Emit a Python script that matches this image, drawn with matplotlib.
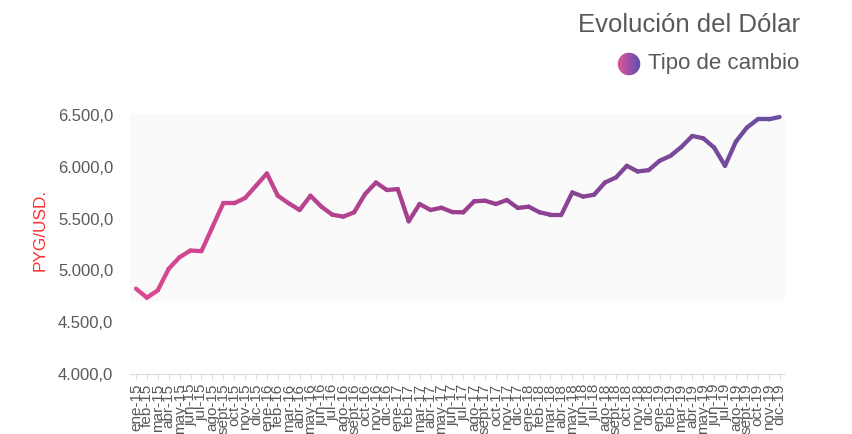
import matplotlib.pyplot as plt
import numpy as np
from matplotlib.collections import LineCollection
from matplotlib.colors import LinearSegmentedColormap
from matplotlib.patches import Circle

plt.rcParams['font.family'] = ['Liberation Sans', 'DejaVu Sans']

# monthly labels ene-15 .. dic-19
meses = ["ene", "feb", "mar", "abr", "may", "jun", "jul", "ago", "sept", "oct", "nov", "dic"]
anios = ["15", "16", "17", "18", "19"]
etiquetas = [m + "-" + a for a in anios for m in meses]

# PYG per USD
tipo_cambio = [
    4824, 4737, 4808, 5016, 5128, 5192, 5186, 5417, 5648, 5648, 5699, 5817,
    5936, 5721, 5648, 5583, 5721, 5615, 5538, 5519, 5561, 5737, 5849, 5776,
    5785, 5474, 5641, 5583, 5605, 5563, 5561, 5667, 5673, 5641, 5680, 5603,
    5615, 5561, 5538, 5538, 5753, 5712, 5731, 5849, 5897, 6010, 5955, 5968,
    6058, 6106, 6192, 6298, 6276, 6186, 6010, 6244, 6378, 6459, 6459, 6481,
]
yticks = [4000, 4500, 5000, 5500, 6000, 6500]

gris = "#595959"
cmap_linea = LinearSegmentedColormap.from_list("linea", ["#db4890", "#9a3f8f", "#6c4d9f"])
cmap_leyenda = LinearSegmentedColormap.from_list("ley", ["#e4559a", "#5a4eb0"])

fig = plt.figure(figsize=(8.53, 4.34), dpi=100)
ax = fig.add_axes([130 / 853, 1 - 374 / 434, 655 / 853, 260 / 434])

x = np.arange(len(tipo_cambio))
y = np.array(tipo_cambio, dtype=float)

# light background band
ax.axhspan(4710, 6510, color="#fafafa", zorder=0)

pts = np.column_stack([x, y]).reshape(-1, 1, 2)
segs = np.concatenate([pts[:-1], pts[1:]], axis=1)
lc = LineCollection(segs, cmap=cmap_linea, linewidth=3.1, capstyle="round", joinstyle="round")
lc.set_array(np.linspace(0, 1, len(segs)))
ax.add_collection(lc)

ax.set_xlim(-0.55, 59.5)
ax.set_ylim(4000, 6510)

ax.set_yticks(yticks)
ax.set_yticklabels([f"{v:,.1f}".replace(",", "X").replace(".", ",").replace("X", ".") for v in yticks])
ax.tick_params(axis="y", length=0, pad=12, labelsize=12, labelcolor=gris)

ax.set_xticks(x)
ax.set_xticklabels(etiquetas, rotation=90, va="top", ha="center")
ax.tick_params(axis="x", length=4, width=0.8, color="#dddddd", pad=3, labelsize=11, labelcolor=gris)

for s in ["top", "right", "left"]:
    ax.spines[s].set_visible(False)
ax.spines["bottom"].set_color("#dddddd")

fig.text(40 / 853, 1 - 230 / 434, "PYG/USD.", rotation=90, color="#ff3030",
         fontsize=12.4, ha="center", va="center")

fig.text(800 / 853, 1 - 25 / 434, "Evolución del Dólar", fontsize=18.5, color=gris,
         ha="right", va="center")
fig.text(648 / 853, 1 - 64 / 434, "Tipo de cambio", fontsize=16, color=gris,
         ha="left", va="center")

# gradient dot for the legend
lax = fig.add_axes([617 / 853, 1 - 76 / 434, 24 / 853, 24 / 434])
lax.set_xlim(0, 1)
lax.set_ylim(0, 1)
lax.axis("off")
grad = np.linspace(0, 1, 64).reshape(1, -1)
im = lax.imshow(grad, cmap=cmap_leyenda, extent=[0, 1, 0, 1], aspect="auto")
circ = Circle((0.5, 0.5), 0.47, transform=lax.transData, facecolor="none", edgecolor="none")
lax.add_patch(circ)
im.set_clip_path(circ)

fig.savefig("out.png", dpi=100)
